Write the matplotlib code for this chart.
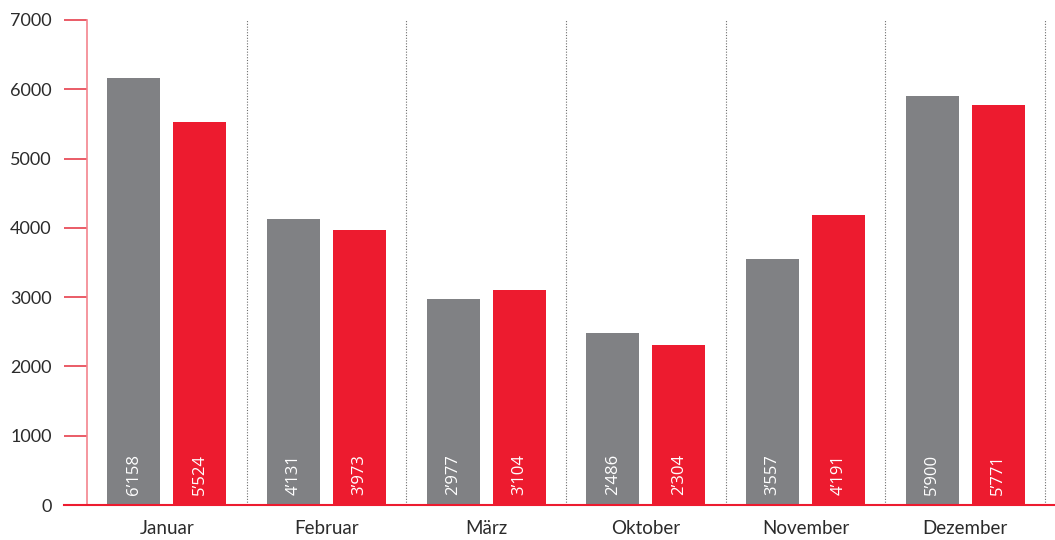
import matplotlib

matplotlib.use("Agg")
import matplotlib.pyplot as plt
import numpy as np

months = ["Januar", "Februar", "März", "Oktober", "November", "Dezember"]
series_grey = [6158, 4131, 2977, 2486, 3557, 5900]
series_red = [5524, 3973, 3104, 2304, 4191, 5771]
y_ticks = [0, 1000, 2000, 3000, 4000, 5000, 6000, 7000]

COLOR_GREY = "#808184"
COLOR_RED = "#ed1b2f"
COLOR_SPINE = "#f3848e"
COLOR_TICK = "#e6404d"
COLOR_TEXT = "#2b2b2b"

plt.rcParams["font.family"] = ["Lato", "DejaVu Sans"]


def fmt(v):
    return f"{v:,}".replace(",", "\u2019")


fig = plt.figure(figsize=(10.55, 5.4), dpi=100)
ax = fig.add_axes([87 / 1055, 35 / 540, (1055 - 87) / 1055, 485 / 540])

x = np.arange(len(months))
group_px = 159.7
bar_w = 53 / group_px
offset = (53 + 13) / 2 / group_px

bars_g = ax.bar(x - offset, series_grey, width=bar_w, color=COLOR_GREY, zorder=2)
bars_r = ax.bar(x + offset, series_red, width=bar_w, color=COLOR_RED, zorder=2)

for bars, vals in ((bars_g, series_grey), (bars_r, series_red)):
    for bar, v in zip(bars, vals):
        ax.text(
            bar.get_x() + bar.get_width() / 2,
            140,
            fmt(v),
            rotation=90,
            ha="center",
            va="bottom",
            color="white",
            fontsize=12,
            family=["Open Sans", "DejaVu Sans"],
            zorder=3,
        )

# dotted separators between months
for i in range(1, len(months) + 1):
    ax.axvline(i - 0.5, color="#6e6e6e", linestyle=(0, (1, 1.5)), linewidth=0.8, zorder=1)

ax.set_xlim(-0.5, 5.5 + 10 / group_px)
ax.set_ylim(0, 7000)
ax.set_yticks(y_ticks)
ax.set_yticklabels([str(t) for t in y_ticks], fontsize=13, color=COLOR_TEXT)
ax.set_xticks(x)
ax.set_xticklabels(months, fontsize=13.5, color=COLOR_TEXT)
ax.tick_params(axis="x", length=0, pad=11)
ax.tick_params(axis="y", length=16.5, width=1.2, color=COLOR_TICK, pad=9)

for side in ("top", "right"):
    ax.spines[side].set_visible(False)
ax.spines["left"].set_color(COLOR_SPINE)
ax.spines["left"].set_linewidth(1.2)
ax.spines["bottom"].set_visible(False)

# baseline extends left under the tick marks
ax.plot([-0.5 - 23 / group_px, 5.5 + 10 / group_px], [0, 0], color=COLOR_RED,
        linewidth=1.5, clip_on=False, zorder=4)

fig.savefig("out.png", dpi=100, facecolor="white")
